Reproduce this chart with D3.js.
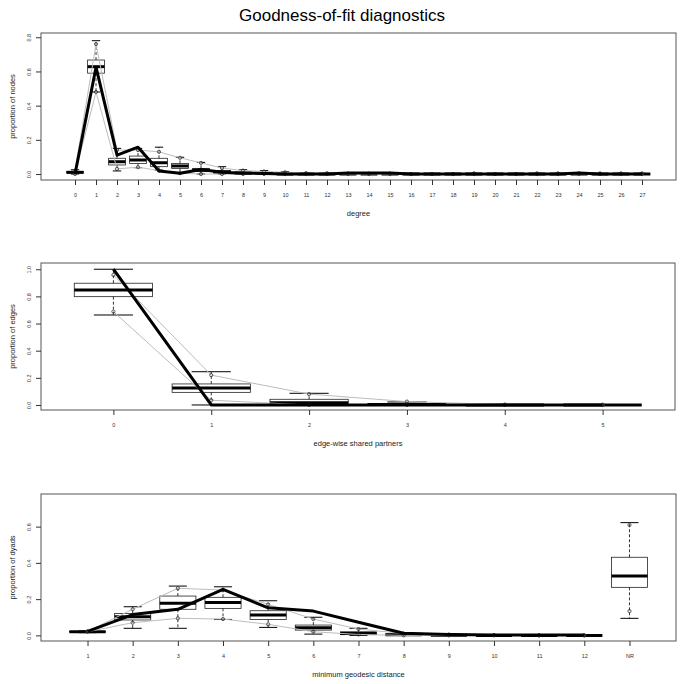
<!DOCTYPE html>
<html><head><meta charset="utf-8">
<script src="https://cdn.jsdelivr.net/npm/d3@7"></script>
<style>body{margin:0;background:#fff} text{font-family:"Liberation Sans",Arial,Helvetica,sans-serif}</style>
</head><body><svg id="c" width="683" height="684"></svg>
<script>
// ---------- Panel 1: degree ----------
const degCats = d3.range(0, 28).map(String);
const degObs = [0.0, 0.625, 0.11, 0.157, 0.018, 0.005, 0.027, 0.01, 0.005, 0.003, 0, 0, 0, 0.006, 0.006, 0.006, 0, 0, 0, 0, 0, 0, 0, 0, 0.006, 0, 0, 0];
const degQ1  = [0.005, 0.59, 0.053, 0.062, 0.043, 0.033, 0.014, 0.005, 0, 0, 0, 0, 0, 0, 0, 0, 0, 0, 0, 0, 0, 0, 0, 0, 0, 0, 0, 0];
const degMed = [0.01, 0.628, 0.072, 0.082, 0.066, 0.047, 0.023, 0.012, 0.005, 0.003, 0, 0, 0, 0, 0, 0, 0, 0, 0, 0, 0, 0, 0, 0, 0, 0, 0, 0];
const degQ3  = [0.015, 0.667, 0.092, 0.105, 0.092, 0.062, 0.033, 0.02, 0.012, 0.008, 0.004, 0, 0, 0, 0, 0, 0, 0, 0, 0, 0, 0, 0, 0, 0, 0, 0, 0];
const degWlo = [0, 0.48, 0.018, 0.037, 0.023, 0.005, 0, 0, 0, 0, 0, 0, 0, 0, 0, 0, 0, 0, 0, 0, 0, 0, 0, 0, 0, 0, 0, 0];
const degWhi = [0.025, 0.78, 0.15, 0.15, 0.157, 0.098, 0.068, 0.043, 0.025, 0.02, 0.013, 0.005, 0.005, 0.003, 0.003, 0.003, 0, 0, 0, 0.004, 0, 0, 0.004, 0.004, 0.004, 0.004, 0.004, 0.004];
const degLo  = [0, 0.48, 0.03, 0.04, 0.02, 0.005, 0, 0, 0, 0, 0, 0, 0, 0, 0, 0, 0, 0, 0, 0, 0, 0, 0, 0, 0, 0, 0, 0];
const degHi  = [0.02, 0.76, 0.14, 0.14, 0.13, 0.095, 0.065, 0.035, 0.02, 0.015, 0.01, 0.005, 0.005, 0.003, 0.003, 0.003, 0, 0, 0, 0.004, 0, 0, 0.004, 0.004, 0.004, 0.004, 0.004, 0.004];
const degYTicks = [0, 0.2, 0.4, 0.6, 0.8];

// ---------- Panel 2: edge-wise shared partners ----------
const espCats = ["0", "1", "2", "3", "4", "5"];
const espObs = [1.0, 0, 0, 0, 0, 0];
const espQ1  = [0.798, 0.093, 0.007, 0, 0, 0];
const espMed = [0.847, 0.125, 0.017, 0.003, 0, 0];
const espQ3  = [0.897, 0.155, 0.042, 0.01, 0, 0];
const espWlo = [0.663, 0, 0, 0, 0, 0];
const espWhi = [1.0, 0.245, 0.086, 0.022, 0.003, 0.002];
const espLo  = [0.688, 0.035, 0, 0, 0, 0];
const espHi  = [0.958, 0.22, 0.08, 0.025, 0.003, 0.002];
const espYTicks = [0, 0.2, 0.4, 0.6, 0.8, 1.0];

// ---------- Panel 3: minimum geodesic distance ----------
const distCats = ["1", "2", "3", "4", "5", "6", "7", "8", "9", "10", "11", "12", "NR"];
const distObs = [0.022, 0.115, 0.144, 0.254, 0.152, 0.134, 0.072, 0.012, 0.005, 0.002, 0.002, 0.002];
const distQ1  = [0.018, 0.085, 0.144, 0.149, 0.088, 0.029, 0.004, 0, 0, 0, 0, 0, 0.265];
const distMed = [0.02, 0.103, 0.177, 0.182, 0.112, 0.042, 0.011, 0.003, 0.001, 0, 0, 0, 0.327];
const distQ3  = [0.022, 0.121, 0.217, 0.21, 0.136, 0.057, 0.02, 0.008, 0.004, 0.001, 0, 0, 0.431];
const distWlo = [0.015, 0.039, 0.039, 0.088, 0.044, 0.007, 0, 0, 0, 0, 0, 0, 0.094];
const distWhi = [0.025, 0.158, 0.272, 0.268, 0.191, 0.1, 0.039, 0.015, 0.008, 0.003, 0.001, 0, 0.622];
const distLo  = [0.02, 0.07, 0.094, 0.09, 0.061, 0.02, 0.005, 0, 0, 0, 0, 0, 0.134];
const distHi  = [0.022, 0.144, 0.26, 0.25, 0.171, 0.09, 0.035, 0.01, 0.005, 0.002, 0, 0, 0.609];
const distYTicks = [0, 0.2, 0.4, 0.6];

const titleText = "Goodness-of-fit diagnostics";

const panels = [
  {cats: degCats, pos0: 0, obs: degObs, q1: degQ1, med: degMed, q3: degQ3, wlo: degWlo, whi: degWhi, lo: degLo, hi: degHi,
   nLine: 28, yTicks: degYTicks, xLab: "degree", yLab: "proportion of nodes",
   l: 41, r: 676, t: 33, b: 180, xdom: [-1.62, 28.62], ydom: [-0.035, 0.825]},
  {cats: espCats, pos0: 0, obs: espObs, q1: espQ1, med: espMed, q3: espQ3, wlo: espWlo, whi: espWhi, lo: espLo, hi: espHi,
   nLine: 6, yTicks: espYTicks, xLab: "edge-wise shared partners", yLab: "proportion of edges",
   l: 41, r: 675, t: 263, b: 410, xdom: [-0.74, 5.74], ydom: [-0.037, 1.046]},
  {cats: distCats, pos0: 1, obs: distObs, q1: distQ1, med: distMed, q3: distQ3, wlo: distWlo, whi: distWhi, lo: distLo, hi: distHi,
   nLine: 12, yTicks: distYTicks, xLab: "minimum geodesic distance", yLab: "proportion of dyads",
   l: 41, r: 676, t: 494, b: 641, xdom: [-0.03, 14.03], ydom: [-0.031, 0.78]}
];

const svg = d3.select("#c");
svg.append("rect").attr("width", 683).attr("height", 684).attr("fill", "#fff");
svg.append("text").attr("x", 342).attr("y", 21).attr("text-anchor", "middle")
  .attr("font-size", 17).attr("fill", "#000").text(titleText);

panels.forEach(p => {
  const g = svg.append("g");
  const x = d3.scaleLinear().domain(p.xdom).range([p.l, p.r]);
  const y = d3.scaleLinear().domain(p.ydom).range([p.b, p.t]);
  const pos = i => i + p.pos0;
  const hw = 0.4, cw = 0.2;

  // boxplots
  p.cats.forEach((c, i) => {
    const xc = x(pos(i));
    const bg = g.append("g");
    // whiskers (dashed)
    bg.append("line").attr("x1", xc).attr("x2", xc).attr("y1", y(p.q3[i])).attr("y2", y(p.whi[i]))
      .attr("stroke", "#000").attr("stroke-width", 0.8).attr("stroke-dasharray", "3,2");
    bg.append("line").attr("x1", xc).attr("x2", xc).attr("y1", y(p.q1[i])).attr("y2", y(p.wlo[i]))
      .attr("stroke", "#000").attr("stroke-width", 0.8).attr("stroke-dasharray", "3,2");
    // caps
    [p.whi[i], p.wlo[i]].forEach(v => {
      bg.append("line").attr("x1", x(pos(i) - cw)).attr("x2", x(pos(i) + cw)).attr("y1", y(v)).attr("y2", y(v))
        .attr("stroke", "#000").attr("stroke-width", 1);
    });
    // box
    bg.append("rect").attr("x", x(pos(i) - hw)).attr("width", x(pos(i) + hw) - x(pos(i) - hw))
      .attr("y", y(p.q3[i])).attr("height", Math.max(0, y(p.q1[i]) - y(p.q3[i])))
      .attr("fill", "none").attr("stroke", "#222").attr("stroke-width", 0.8);
    // median
    bg.append("line").attr("x1", x(pos(i) - hw)).attr("x2", x(pos(i) + hw)).attr("y1", y(p.med[i])).attr("y2", y(p.med[i]))
      .attr("stroke", "#000").attr("stroke-width", 3);
  });

  // quantile lines (grey) and circles
  const n = p.nLine;
  const idx = d3.range(0, n);
  const ln = arr => d3.line().x(i => x(pos(i))).y(i => y(arr[i]));
  [p.lo, p.hi].forEach(arr => {
    g.append("path").attr("d", ln(arr)(idx)).attr("fill", "none").attr("stroke", "#bdbdbd").attr("stroke-width", 1);
  });
  [p.lo, p.hi].forEach(arr => {
    g.selectAll(null).data(d3.range(0, p.cats.length)).enter().append("circle")
      .attr("cx", i => x(pos(i))).attr("cy", i => y(arr[i])).attr("r", 1.6)
      .attr("fill", "none").attr("stroke", "#333").attr("stroke-width", 0.8);
  });

  // observed
  g.append("path").attr("d", ln(p.obs)(idx)).attr("fill", "none").attr("stroke", "#000")
    .attr("stroke-width", 3).attr("stroke-linejoin", "round");

  // frame
  g.append("rect").attr("x", p.l).attr("y", p.t).attr("width", p.r - p.l).attr("height", p.b - p.t)
    .attr("fill", "none").attr("stroke", "#555").attr("stroke-width", 1);

  // x axis
  const xa = g.append("g").attr("transform", `translate(0,${p.b})`)
    .call(d3.axisBottom(x).tickValues(p.cats.map((c, i) => pos(i))).tickFormat((d, i) => p.cats[i])
      .tickSize(5).tickPadding(8));
  xa.select(".domain").remove();
  xa.selectAll("line").attr("stroke", "#333");
  xa.selectAll("text").attr("font-size", 5.5).attr("fill", "#333").attr("font-family", "Liberation Sans, Arial, sans-serif");

  // y axis
  const ya = g.append("g").attr("transform", `translate(${p.l},0)`)
    .call(d3.axisLeft(y).tickValues(p.yTicks).tickFormat(d3.format(".1f")).tickSize(5));
  ya.select(".domain").remove();
  ya.selectAll("line").attr("stroke", "#333");
  ya.selectAll("text").attr("font-size", 5.5).attr("fill", "#333").attr("font-family", "Liberation Sans, Arial, sans-serif")
    .attr("x", null).attr("dy", null).attr("text-anchor", "middle")
    .attr("transform", "translate(-10,0) rotate(-90)");

  // axis titles
  g.append("text").attr("x", (p.l + p.r) / 2).attr("y", p.b + 36).attr("text-anchor", "middle")
    .attr("font-size", 7.5).attr("fill", "#222").text(p.xLab);
  g.append("text").attr("transform", `translate(15,${(p.t + p.b) / 2}) rotate(-90)`).attr("text-anchor", "middle")
    .attr("font-size", 7.5).attr("fill", "#222").text(p.yLab);
});
</script>
</body></html>
